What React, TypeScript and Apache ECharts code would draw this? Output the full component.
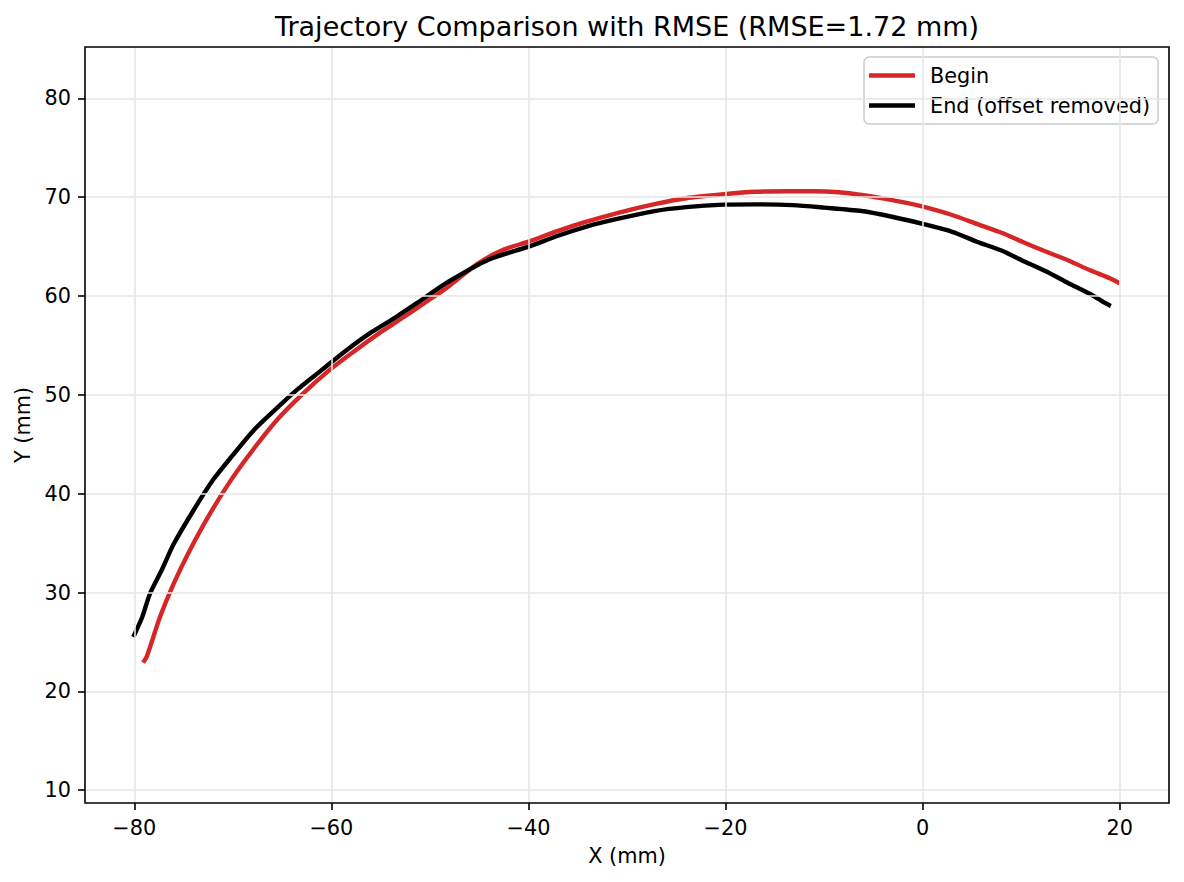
import React, { useEffect, useRef } from "react";
import * as echarts from "echarts";

const titleText = "Trajectory Comparison with RMSE (RMSE=1.72 mm)";
const xTicks = [-80, -60, -40, -20, 0, 20];
const yTicks = [10, 20, 30, 40, 50, 60, 70, 80];

const beginX = [-79.1, -78.7, -77.4, -76.0, -74.4, -72.3, -70.0, -67.6, -65.3, -62.8, -60.2, -57.7, -55.2, -52.6, -50.1, -48.2, -45.1, -42.5, -40.0, -37.0, -34.2, -31.0, -27.2, -24.0, -20.2, -17.0, -13.7, -11.0, -8.5, -6.0, -3.9, -1.5, 0.8, 3.0, 5.5, 8.0, 10.1, 12.5, 14.8, 17.0, 19.0, 20.0];
const beginY = [22.9, 23.6, 27.5, 30.9, 34.2, 38.0, 41.65, 44.9, 47.7, 50.2, 52.5, 54.4, 56.2, 57.9, 59.6, 60.9, 63.3, 64.7, 65.5, 66.6, 67.5, 68.4, 69.3, 69.9, 70.3, 70.55, 70.6, 70.6, 70.5, 70.2, 69.85, 69.4, 68.85, 68.2, 67.3, 66.4, 65.5, 64.5, 63.6, 62.6, 61.8, 61.3];

const endX = [-80.1, -79.2, -78.4, -77.2, -76.0, -74.0, -72.0, -70.0, -67.9, -65.7, -63.5, -61.0, -58.5, -56.0, -53.4, -51.0, -48.2, -44.0, -40.0, -37.0, -34.2, -31.0, -27.2, -24.0, -20.2, -17.0, -13.2, -10.0, -6.2, -3.0, 0.0, 3.0, 5.5, 8.0, 10.1, 12.5, 14.8, 17.0, 18.5, 19.1];
const endY = [25.5, 27.5, 29.9, 32.3, 34.9, 38.3, 41.4, 43.9, 46.4, 48.5, 50.5, 52.5, 54.5, 56.3, 57.9, 59.5, 61.4, 63.7, 65.0, 66.1, 67.0, 67.8, 68.6, 69.0, 69.25, 69.28, 69.2, 68.95, 68.6, 68.0, 67.3, 66.5, 65.5, 64.6, 63.6, 62.5, 61.3, 60.2, 59.3, 59.0];

const FONT = "'DejaVu Sans', sans-serif";
const fmt = (v: number) => String(v).replace("-", "\u2212");

export default function App() {
  const ref = useRef<HTMLDivElement>(null);
  useEffect(() => {
    if (!ref.current) return;
    const chart = echarts.init(ref.current, null, { renderer: "svg" });
    const beginData = beginX.map((x, i) => [x, beginY[i]]);
    const endData = endX.map((x, i) => [x, endY[i]]);
    const gridColor = "#e6e6e6";
    chart.setOption({
      animation: false,
      backgroundColor: "#ffffff",
      textStyle: { fontFamily: FONT },
      graphic: [
        {
          type: "text",
          x: 627,
          y: 26,
          style: {
            text: titleText,
            font: `27px ${FONT}`,
            fill: "#000",
            align: "center",
            verticalAlign: "middle",
          },
        },
      ],
      grid: {
        left: 85,
        top: 47,
        width: 1084,
        height: 756,
        show: true,
        borderColor: "#000",
        borderWidth: 1.6,
        backgroundColor: "transparent",
        z: 10,
      },
      legend: {
        orient: "vertical",
        right: 26,
        top: 57,
        backgroundColor: "rgba(255,255,255,0.8)",
        borderColor: "#cccccc",
        borderWidth: 1.5,
        borderRadius: 5,
        padding: [8, 8, 8, 5],
        itemGap: 9,
        itemWidth: 46,
        itemHeight: 4.5,
        icon: "rect",
        textStyle: {
          fontFamily: FONT,
          fontSize: 20.8,
          color: "#000",
          lineHeight: 21,
          padding: [0, 0, 0, 10],
        },
        data: ["Begin", "End (offset removed)"],
      },
      xAxis: {
        type: "value",
        min: -85,
        max: 25,
        name: "X (mm)",
        nameLocation: "middle",
        nameGap: 42,
        nameTextStyle: { fontFamily: FONT, fontSize: 20.8, color: "#000" },
        axisLine: { show: false, onZero: false },
        axisTick: {
          show: true,
          customValues: xTicks,
          length: 7,
          lineStyle: { color: "#000", width: 1.6 },
        },
        axisLabel: {
          customValues: xTicks,
          margin: 14,
          fontFamily: FONT,
          fontSize: 20.8,
          color: "#000",
          formatter: fmt,
        },
        splitLine: { show: false },
      },
      yAxis: {
        type: "value",
        min: 8.7,
        max: 85.2,
        name: "Y (mm)",
        nameLocation: "middle",
        nameGap: 52,
        nameTextStyle: { fontFamily: FONT, fontSize: 20.8, color: "#000" },
        axisLine: { show: false, onZero: false },
        axisTick: {
          show: true,
          customValues: yTicks,
          length: 7,
          lineStyle: { color: "#000", width: 1.6 },
        },
        axisLabel: {
          customValues: yTicks,
          margin: 14,
          fontFamily: FONT,
          fontSize: 20.8,
          color: "#000",
          formatter: fmt,
        },
        splitLine: { show: false },
      },
      series: [
        {
          name: "grid",
          type: "line",
          data: [],
          silent: true,
          z: 0,
          markLine: {
            silent: true,
            symbol: ["none", "none"],
            label: { show: false },
            lineStyle: { color: gridColor, width: 1.6, type: "solid" },
            data: [
              ...xTicks.map((v) => ({ xAxis: v })),
              ...yTicks.map((v) => ({ yAxis: v })),
            ],
          },
        },
        {
          name: "Begin",
          type: "line",
          data: beginData,
          showSymbol: false,
          smooth: 0.25,
          color: "#d62728",
          lineStyle: { color: "#d62728", width: 4.4 },
          z: 3,
        },
        {
          name: "End (offset removed)",
          type: "line",
          data: endData,
          showSymbol: false,
          smooth: 0.25,
          color: "#000000",
          lineStyle: { color: "#000000", width: 4.4 },
          z: 4,
        },
      ],
    });
    return () => chart.dispose();
  }, []);
  return (
    <div
      ref={ref}
      style={{ position: "absolute", left: 0, top: 0, width: 1184, height: 882 }}
    />
  );
}
